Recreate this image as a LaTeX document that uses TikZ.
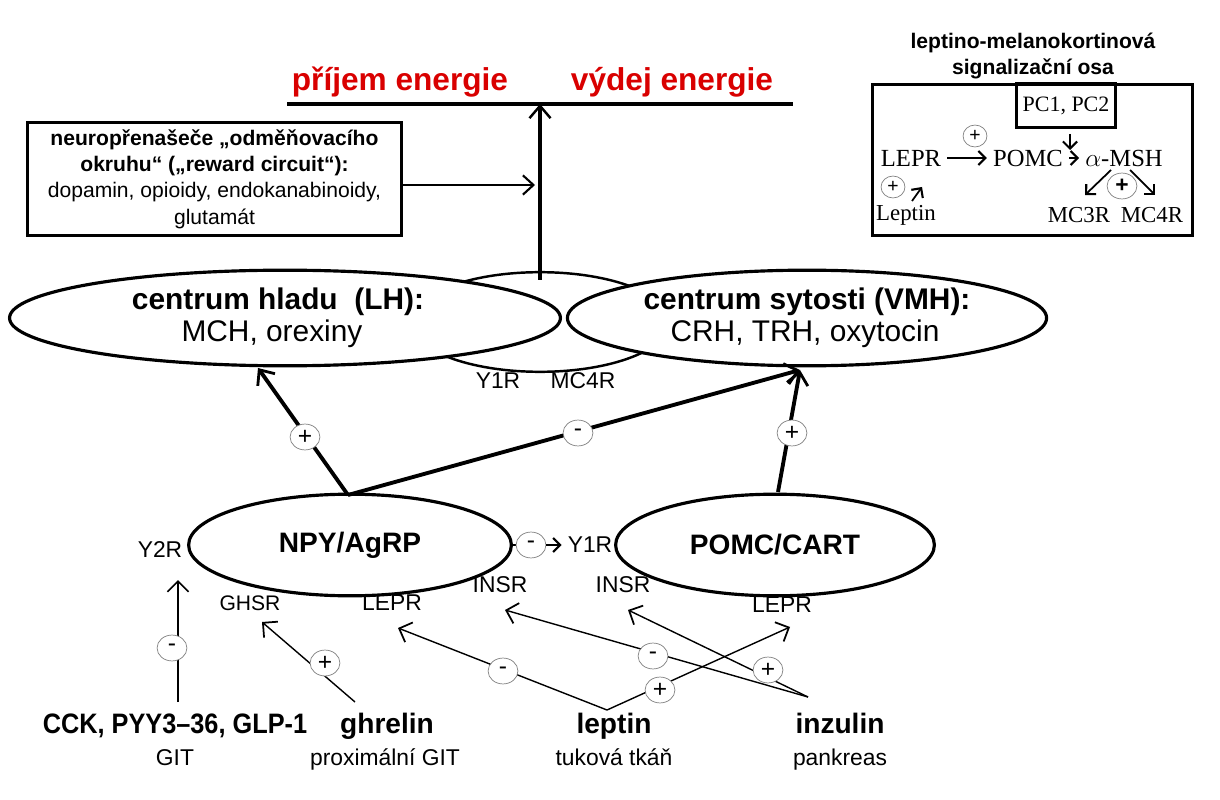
\documentclass[tikz,border=0pt]{standalone}
\usepackage{fontspec}
\setmainfont{Liberation Sans}
\newfontfamily\serifT{Liberation Serif}
\usetikzlibrary{arrows.meta,shapes.geometric}
\begin{document}
\begin{tikzpicture}[x=0.02cm,y=-0.02cm,
 ell/.style={draw,ellipse,line width=1.8pt,fill=white,inner sep=0pt},
 thick arr/.style={line width=2.2pt,-{Straight Barb[length=7pt,width=12pt,line width=1.6pt]}},
 thin arr/.style={line width=0.8pt,-{Straight Barb[length=6pt,width=12pt,line width=1pt]}},
 sarr/.style={line width=1pt,-{Straight Barb[length=4pt,width=8pt,line width=1.2pt]}},
 sg/.style={draw=gray,ellipse,fill=white,minimum width=30pt*0.567,minimum height=26pt*0.567,inner sep=0pt,font=\fontsize{14}{14}\selectfont},
 lab/.style={font=\fontsize{13}{14}\selectfont},
 sub/.style={font=\fontsize{13}{14}\selectfont,text height=9pt,text depth=3pt},
 btm/.style={font=\fontsize{16}{18}\selectfont\bfseries,text height=12pt,text depth=3pt},
 elt/.style={font=\fontsize{17}{20}\selectfont\bfseries},
 els/.style={font=\fontsize{17}{20}\selectfont},
 ser/.style={font=\serifT\fontsize{14}{16}\selectfont},
]
\useasboundingbox (0,0) rectangle (1220,800);
% top
\node[text=red!85!black,font=\fontsize{18}{22}\selectfont\bfseries] (pe) at (400,82) {příjem energie};
\node[text=red!85!black,font=\fontsize{18}{22}\selectfont\bfseries] (ve) at (672,82) {výdej energie};
\coordinate (bl) at (287,104); \coordinate (br) at (793,104);
\draw[line width=2pt] (bl) -- (br);
\coordinate (top) at (540,104); \coordinate (bot) at (540,280);
% middle ellipse
\node[ell,line width=1.4pt,minimum width=260*0.567pt,minimum height=100*0.567pt] (mid) at (540,322) {};
\draw[line width=1.8pt,-{Straight Barb[length=7pt,width=12pt,line width=1.4pt]}] (bot) -- (top);
\node[lab] (y1r) at (498,381) {Y1R};
\node[lab] (mc4r) at (583,381) {MC4R};
% reward box
\node[draw,line width=1.6pt,minimum width=375*0.567pt,minimum height=114*0.567pt,align=center,font=\fontsize{12}{15}\selectfont] (rw) at (214.5,179) {\textbf{neuropřenašeče „odměňovacího}\\\textbf{okruhu“ („reward circuit“):}\\dopamin, opioidy, endokanabinoidy,\\glutamát};
\coordinate (rt) at (535,185);
\draw[line width=1.4pt,-{Straight Barb[length=6pt,width=11pt,line width=1.2pt]}] (rw.east |- rt) -- (rt);
% LH, VMH
\node[ell,minimum width=553*0.567pt,minimum height=96*0.567pt] (lh) at (285,318) {};
\node[elt] (lht) at (278,302) {centrum hladu~~(LH):};
\node[els] (lhs) at (272,334) {MCH, orexiny};
\node[ell,minimum width=481*0.567pt,minimum height=96*0.567pt] (vmh) at (807,318) {};
\node[elt] (vt) at (807,302) {centrum sytosti (VMH):};
\node[els] (vs) at (805,334) {CRH, TRH, oxytocin};
% NPY, POMC
\node[ell,minimum width=324*0.567pt,minimum height=102*0.567pt,font=\fontsize{16}{18}\selectfont\bfseries] (npy) at (350,545) {NPY/AgRP};
\node[ell,minimum width=320*0.567pt,minimum height=102*0.567pt,font=\fontsize{16}{18}\selectfont\bfseries] (pomc) at (775,545) {POMC/CART};
\coordinate (n0) at (348,495); \coordinate (lhin) at (258,368);
\coordinate (vin) at (800,370); \coordinate (p0) at (778,492);
\draw[thick arr] (n0) -- (lhin);
\draw[thick arr] (n0) -- (vin);
\draw[thick arr] (p0) -- (vin);
\node[sg] (s1) at (305,437) {+};
\node[sg] (s2) at (578,433) {-};
\node[sg] (s3) at (792,433) {+};
% Y1R small
\node[lab] (y1b) at (590,545) {Y1R};
\draw[line width=0.8pt] (npy.east) -- (531,545);
\node[sg] (s4) at (531,545) {-};
\draw[sarr] (s4.east) -- (y1b.west);
% receptor labels
\node[lab] (y2r) at (160,550) {Y2R};
\node[lab,font=\fontsize{12}{14}\selectfont] (ghsr) at (250,603) {GHSR};
\node[lab] (lepr1) at (392,603) {LEPR};
\node[lab] (insr1) at (500,585) {INSR};
\node[lab] (insr2) at (623,585) {INSR};
\node[lab] (lepr2) at (782,605) {LEPR};
% bottom sources
\node[btm] (cck) at (175,726) {\scalebox{0.9}[1]{CCK, PYY3–36, GLP-1}};
\node[sub] (git) at (175,760) {GIT};
\node[btm] (ghr) at (387,726) {ghrelin};
\node[sub] (pgit) at (385,760) {proximální GIT};
\node[btm] (lep) at (614,726) {leptin};
\node[sub] (tuk) at (614,760) {tuková tkáň};
\node[btm] (inz) at (840,726) {inzulin};
\node[sub] (pank) at (840,760) {pankreas};
\coordinate (c0) at (178,702); \coordinate (c1) at (178,580);
\coordinate (g0) at (355,702); \coordinate (g1) at (262,622);
\coordinate (l0) at (607,710); \coordinate (l1) at (398,628); \coordinate (l2) at (790,627);
\coordinate (i0) at (808,697); \coordinate (i1) at (505,610); \coordinate (i2) at (628,610);
\draw[thin arr] (c0) -- (c1);
\draw[thin arr] (g0) -- (g1);
\draw[thin arr] (l0) -- (l1);
\draw[thin arr] (l0) -- (l2);
\draw[thin arr] (i0) -- (i1);
\draw[thin arr] (i0) -- (i2);
\node[sg] (b1) at (172,648) {-};
\node[sg] (b2) at (325,663) {+};
\node[sg] (b3) at (503,671) {-};
\node[sg] (b4) at (660,690) {+};
\node[sg] (b5) at (653,656) {-};
\node[sg] (b6) at (768,670) {+};
% right panel
\node[font=\fontsize{12}{15}\selectfont\bfseries,align=center] (rtl) at (1033,56) {leptino-melanokortinová\\signalizační osa};
\node[draw,line width=1.8pt,minimum width=321*0.567pt,minimum height=152*0.567pt] (rbox) at (1032.5,160) {};
\node[draw,line width=1.8pt,minimum width=98*0.567pt,minimum height=44*0.567pt,font=\serifT\fontsize{12.5}{14}\selectfont] (pc) at (1066,106) {PC1, PC2};
\node[ser] (rl) at (911,158) {LEPR};
\node[ser] (rp) at (1028,158) {POMC};
\node[ser] (ra) at (1124,158) {$\alpha$-MSH};
\node[ser,font=\serifT\fontsize{13}{14}\selectfont] (rlep) at (906,215) {Leptin};
\node[ser,font=\serifT\fontsize{13}{14}\selectfont] (r3) at (1079,215) {MC3R};
\node[ser,font=\serifT\fontsize{13}{14}\selectfont] (r4) at (1152,215) {MC4R};
\draw[sarr] (rl.east) -- (rp.west);
\draw[sarr] (rp.east) -- (ra.west);
\draw[sarr,line width=0.7pt] (1070,134) -- (1070,150);
\draw[sarr] (1111,170) -- (1085,195);
\draw[sarr] (1130,170) -- (1155,195);
\draw[sarr] (912,201) -- (922,187);
\node[sg,minimum width=24*0.567pt,minimum height=22*0.567pt,font=\fontsize{11}{11}\selectfont] (q1) at (975,136) {+};
\node[sg,minimum width=24*0.567pt,minimum height=22*0.567pt,font=\fontsize{11}{11}\selectfont] (q2) at (893,187) {+};
\node[sg,fill=none,minimum width=30*0.567pt,minimum height=26*0.567pt,font=\fontsize{13}{13}\selectfont\bfseries] (q3) at (1122,186) {+};
\end{tikzpicture}
\end{document}
